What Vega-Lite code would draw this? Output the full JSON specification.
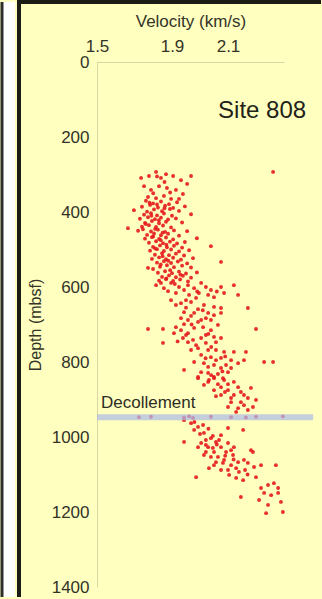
{
  "$schema": "https://vega.github.io/schema/vega-lite/v6.json",
  "background": "#ffffc0",
  "padding": 0,
  "spacing": 0,
  "config": {
    "view": {"stroke": null},
    "font": "Liberation Sans",
    "axis": {"labelFont": "Liberation Sans", "titleFont": "Liberation Sans"}
  },
  "datasets": {
    "measurements": [
      {"velocity":1.777,"depth":304},{"velocity":1.815,"depth":293},{"velocity":1.841,"depth":309},{"velocity":1.868,"depth":299},{"velocity":1.904,"depth":304},{"velocity":1.932,"depth":315},{"velocity":1.954,"depth":325},{"velocity":1.751,"depth":331},{"velocity":1.788,"depth":341},{"velocity":1.831,"depth":331},{"velocity":1.873,"depth":336},{"velocity":1.914,"depth":341},{"velocity":1.939,"depth":352},{"velocity":1.735,"depth":309},{"velocity":1.772,"depth":360},{"velocity":1.815,"depth":363},{"velocity":1.857,"depth":357},{"velocity":1.895,"depth":365},{"velocity":1.925,"depth":365},{"velocity":2.261,"depth":293},{"velocity":1.968,"depth":304},
      {"velocity":1.761,"depth":370},{"velocity":1.799,"depth":377},{"velocity":1.841,"depth":372},{"velocity":1.884,"depth":379},{"velocity":1.918,"depth":374},
      {"velocity":1.74,"depth":386},{"velocity":1.783,"depth":381},{"velocity":1.825,"depth":388},{"velocity":1.863,"depth":383},{"velocity":1.904,"depth":389},{"velocity":1.946,"depth":385},
      {"velocity":1.697,"depth":395},{"velocity":1.767,"depth":399},{"velocity":1.804,"depth":393},{"velocity":1.847,"depth":398},{"velocity":1.889,"depth":392},{"velocity":1.925,"depth":397},
      {"velocity":1.751,"depth":407},{"velocity":1.788,"depth":403},{"velocity":1.82,"depth":409},{"velocity":1.857,"depth":404},{"velocity":1.9,"depth":410},{"velocity":1.968,"depth":406},
      {"velocity":1.729,"depth":418},{"velocity":1.772,"depth":414},{"velocity":1.809,"depth":419},{"velocity":1.841,"depth":415},{"velocity":1.879,"depth":420},{"velocity":1.914,"depth":417},
      {"velocity":1.756,"depth":429},{"velocity":1.793,"depth":424},{"velocity":1.831,"depth":430},{"velocity":1.868,"depth":426},{"velocity":1.936,"depth":428},
      {"velocity":1.74,"depth":439},{"velocity":1.777,"depth":435},{"velocity":1.815,"depth":440},{"velocity":1.852,"depth":436},{"velocity":1.895,"depth":441},
      {"velocity":1.665,"depth":443},
      {"velocity":1.719,"depth":450},{"velocity":1.745,"depth":446},{"velocity":1.788,"depth":452},{"velocity":1.825,"depth":447},{"velocity":1.863,"depth":453},{"velocity":1.907,"depth":449},{"velocity":1.954,"depth":451},
      {"velocity":1.767,"depth":461},{"velocity":1.804,"depth":457},{"velocity":1.841,"depth":462},{"velocity":1.879,"depth":458},{"velocity":1.925,"depth":463},
      {"velocity":1.756,"depth":471},{"velocity":1.793,"depth":467},{"velocity":1.831,"depth":472},{"velocity":1.868,"depth":468},{"velocity":1.904,"depth":473},{"velocity":1.989,"depth":470},
      {"velocity":1.777,"depth":482},{"velocity":1.815,"depth":478},{"velocity":1.852,"depth":483},{"velocity":1.889,"depth":479},{"velocity":1.918,"depth":484},{"velocity":1.946,"depth":480},
      {"velocity":1.799,"depth":493},{"velocity":1.836,"depth":489},{"velocity":1.873,"depth":494},{"velocity":1.907,"depth":490},{"velocity":1.936,"depth":495},{"velocity":2.039,"depth":491},
      {"velocity":1.783,"depth":503},{"velocity":1.82,"depth":499},{"velocity":1.857,"depth":504},{"velocity":1.895,"depth":500},{"velocity":1.925,"depth":505},{"velocity":1.961,"depth":502},
      {"velocity":1.809,"depth":514},{"velocity":1.847,"depth":510},{"velocity":1.884,"depth":515},{"velocity":1.914,"depth":511},{"velocity":1.943,"depth":516},
      {"velocity":1.793,"depth":525},{"velocity":1.831,"depth":521},{"velocity":1.868,"depth":526},{"velocity":1.904,"depth":522},{"velocity":1.932,"depth":527},{"velocity":1.975,"depth":523},
      {"velocity":1.82,"depth":535},{"velocity":1.857,"depth":531},{"velocity":1.895,"depth":536},{"velocity":1.921,"depth":532},{"velocity":1.954,"depth":537},{"velocity":2.075,"depth":533},
      {"velocity":1.836,"depth":546},{"velocity":1.873,"depth":542},{"velocity":1.907,"depth":547},{"velocity":1.936,"depth":543},{"velocity":1.968,"depth":548},
      {"velocity":1.772,"depth":549},{"velocity":1.799,"depth":552},
      {"velocity":1.825,"depth":562},{"velocity":1.863,"depth":558},{"velocity":1.9,"depth":563},{"velocity":1.925,"depth":559},{"velocity":1.95,"depth":564},{"velocity":1.989,"depth":561},
      {"velocity":1.847,"depth":573},{"velocity":1.884,"depth":569},{"velocity":1.914,"depth":574},{"velocity":1.939,"depth":570},{"velocity":1.968,"depth":575},
      {"velocity":1.831,"depth":583},{"velocity":1.868,"depth":579},{"velocity":1.904,"depth":584},{"velocity":1.929,"depth":580},{"velocity":1.957,"depth":585},
      {"velocity":1.78,"depth":375},{"velocity":1.82,"depth":380},{"velocity":1.86,"depth":390},{"velocity":1.79,"depth":410},{"velocity":1.83,"depth":422},{"velocity":1.76,"depth":432},{"velocity":1.81,"depth":445},{"velocity":1.85,"depth":455},{"velocity":1.8,"depth":465},{"velocity":1.84,"depth":475},{"velocity":1.87,"depth":487},{"velocity":1.81,"depth":497},{"velocity":1.85,"depth":518},{"velocity":1.88,"depth":530},{"velocity":1.84,"depth":540},{"velocity":1.89,"depth":555},{"velocity":1.93,"depth":567},{"velocity":1.87,"depth":577},{"velocity":1.91,"depth":592},{"velocity":1.82,"depth":305},{"velocity":1.86,"depth":320},{"velocity":1.8,"depth":350},{"velocity":1.89,"depth":348},
      {"velocity":1.815,"depth":595},{"velocity":1.857,"depth":603},{"velocity":1.895,"depth":589},{"velocity":1.925,"depth":600},{"velocity":1.957,"depth":595},{"velocity":1.996,"depth":616},{"velocity":2.004,"depth":589},{"velocity":2.039,"depth":608},{"velocity":2.075,"depth":600},{"velocity":2.121,"depth":595},{"velocity":2.086,"depth":616},{"velocity":2.136,"depth":621},{"velocity":1.914,"depth":616},{"velocity":1.961,"depth":621},{"velocity":2.029,"depth":621},{"velocity":2.05,"depth":627},
      {"velocity":1.895,"depth":635},{"velocity":1.932,"depth":643},{"velocity":1.968,"depth":640},{"velocity":2.014,"depth":648},{"velocity":2.05,"depth":653},{"velocity":2.075,"depth":656},{"velocity":1.943,"depth":667},{"velocity":1.979,"depth":669},{"velocity":2.029,"depth":669},{"velocity":2.004,"depth":688},{"velocity":2.075,"depth":669},{"velocity":2.039,"depth":688},{"velocity":2.171,"depth":656},{"velocity":1.957,"depth":688},
      {"velocity":1.914,"depth":707},{"velocity":1.932,"depth":715},{"velocity":1.957,"depth":723},{"velocity":1.979,"depth":709},{"velocity":2.011,"depth":707},{"velocity":2.039,"depth":715},{"velocity":2.064,"depth":701},{"velocity":1.939,"depth":736},{"velocity":1.957,"depth":747},{"velocity":1.975,"depth":741},{"velocity":2.004,"depth":736},{"velocity":2.021,"depth":728},{"velocity":2.05,"depth":733},{"velocity":2.075,"depth":736},{"velocity":1.852,"depth":749},{"velocity":1.772,"depth":712},{"velocity":1.852,"depth":712},{"velocity":2.2,"depth":712},{"velocity":1.907,"depth":723},
      {"velocity":1.993,"depth":763},{"velocity":2.029,"depth":768},{"velocity":2.057,"depth":768},{"velocity":2.086,"depth":773},{"velocity":2.121,"depth":773},{"velocity":2.039,"depth":787},{"velocity":2.075,"depth":789},{"velocity":2.111,"depth":795},{"velocity":2.136,"depth":803},{"velocity":2.157,"depth":795},{"velocity":2.014,"depth":803},{"velocity":2.05,"depth":808},{"velocity":2.075,"depth":816},{"velocity":2.004,"depth":827},{"velocity":2.029,"depth":829},{"velocity":2.05,"depth":840},{"velocity":2.1,"depth":827},{"velocity":1.943,"depth":821},{"velocity":2.229,"depth":800},{"velocity":2.261,"depth":800},{"velocity":2.164,"depth":773},
      {"velocity":1.841,"depth":589},{"velocity":1.879,"depth":611},{"velocity":1.943,"depth":608},{"velocity":1.979,"depth":603},{"velocity":2.021,"depth":600},{"velocity":1.986,"depth":629},{"velocity":1.95,"depth":635},{"velocity":1.914,"depth":648},{"velocity":1.993,"depth":659},{"velocity":2.021,"depth":683},{"velocity":1.968,"depth":677},{"velocity":1.943,"depth":699},{"velocity":1.993,"depth":693},{"velocity":1.932,"depth":683},{"velocity":2.05,"depth":675},{"velocity":1.95,"depth":728},{"velocity":1.986,"depth":755},{"velocity":2.021,"depth":749},{"velocity":2.057,"depth":747},{"velocity":1.968,"depth":768},{"velocity":2.004,"depth":781},{"velocity":2.057,"depth":795},{"velocity":2.093,"depth":808},{"velocity":2.029,"depth":813},{"velocity":1.979,"depth":800},{"velocity":2.111,"depth":816},{"velocity":2.064,"depth":832},{"velocity":2.082,"depth":843},{"velocity":2.032,"depth":848},{"velocity":1.993,"depth":843},
      {"velocity":1.99,"depth":612},{"velocity":2.06,"depth":612},{"velocity":1.95,"depth":655},{"velocity":2.01,"depth":662},{"velocity":1.97,"depth":700},{"velocity":2.03,"depth":725},{"velocity":1.92,"depth":745},{"velocity":2.04,"depth":760},{"velocity":2.09,"depth":785},{"velocity":2.02,"depth":790},{"velocity":2.08,"depth":825},{"velocity":2.04,"depth":835},
      {"velocity":1.993,"depth":840},{"velocity":2.029,"depth":853},{"velocity":2.05,"depth":843},{"velocity":2.075,"depth":867},{"velocity":2.1,"depth":875},{"velocity":2.121,"depth":888},{"velocity":2.146,"depth":880},{"velocity":2.171,"depth":896},{"velocity":2.075,"depth":888},{"velocity":2.111,"depth":907},{"velocity":2.157,"depth":915},{"velocity":2.189,"depth":920},{"velocity":2.136,"depth":923},{"velocity":2.05,"depth":875},{"velocity":2.014,"depth":861},{"velocity":2.086,"depth":848},{"velocity":2.121,"depth":853},{"velocity":2.182,"depth":869},
      {"velocity":2.064,"depth":859},{"velocity":2.1,"depth":859},{"velocity":2.136,"depth":867},{"velocity":2.089,"depth":880},{"velocity":2.157,"depth":888},{"velocity":2.057,"depth":891},{"velocity":2.111,"depth":896},{"velocity":2.146,"depth":907},{"velocity":2.1,"depth":920},{"velocity":2.171,"depth":928},{"velocity":2.2,"depth":901},{"velocity":2.129,"depth":933},
      {"velocity":1.724,"depth":947},{"velocity":1.788,"depth":946},{"velocity":1.943,"depth":948},{"velocity":1.961,"depth":945},{"velocity":1.975,"depth":949},{"velocity":2.039,"depth":946},{"velocity":2.111,"depth":947},{"velocity":2.164,"depth":948},{"velocity":2.2,"depth":946},{"velocity":2.296,"depth":945},
      {"velocity":1.943,"depth":955},{"velocity":1.968,"depth":963},{"velocity":1.993,"depth":973},{"velocity":2.014,"depth":989},{"velocity":2.039,"depth":1003},{"velocity":2.004,"depth":1016},{"velocity":2.029,"depth":1027},{"velocity":2.05,"depth":1040},{"velocity":2.075,"depth":1027},{"velocity":2.1,"depth":1016},{"velocity":2.121,"depth":1027},{"velocity":2.064,"depth":1053},{"velocity":2.039,"depth":1053},{"velocity":2.086,"depth":1061},{"velocity":2.111,"depth":1075},{"velocity":2.129,"depth":1083},{"velocity":2.1,"depth":1088},{"velocity":2.075,"depth":1088},{"velocity":2.032,"depth":1083},{"velocity":1.943,"depth":1013},{"velocity":1.986,"depth":1107},{"velocity":2.154,"depth":981},{"velocity":2.189,"depth":1040},{"velocity":2.171,"depth":1069},{"velocity":2.193,"depth":1080},{"velocity":2.218,"depth":1075},{"velocity":2.271,"depth":1075},{"velocity":2.2,"depth":1107},{"velocity":2.129,"depth":1109},{"velocity":2.154,"depth":1115},
      {"velocity":2.218,"depth":1136},{"velocity":2.243,"depth":1128},{"velocity":2.264,"depth":1123},{"velocity":2.279,"depth":1136},{"velocity":2.229,"depth":1149},{"velocity":2.254,"depth":1155},{"velocity":2.279,"depth":1149},{"velocity":2.211,"depth":1168},{"velocity":2.243,"depth":1181},{"velocity":2.289,"depth":1173},{"velocity":2.236,"depth":1203},{"velocity":2.296,"depth":1200},{"velocity":2.146,"depth":1160},
      {"velocity":2.011,"depth":968},{"velocity":2.075,"depth":995},{"velocity":2.021,"depth":1021},{"velocity":2.046,"depth":1029},{"velocity":2.111,"depth":1035},{"velocity":2.014,"depth":1048},{"velocity":2.1,"depth":976},{"velocity":2.182,"depth":1035},{"velocity":2.136,"depth":1067},{"velocity":2.157,"depth":1061},{"velocity":2.057,"depth":1013},
      {"velocity":1.979,"depth":981},{"velocity":2.0,"depth":992},{"velocity":2.021,"depth":1008},{"velocity":2.046,"depth":997},{"velocity":2.068,"depth":1008},{"velocity":2.093,"depth":1040},{"velocity":2.057,"depth":1067},{"velocity":2.021,"depth":1040},{"velocity":1.993,"depth":1027},{"velocity":2.082,"depth":1069},{"velocity":2.118,"depth":1048},{"velocity":2.139,"depth":1093},{"velocity":2.104,"depth":1101},{"velocity":2.161,"depth":1088},
      {"velocity":1.98,"depth":960},{"velocity":2.03,"depth":978},{"velocity":2.06,"depth":1020},{"velocity":2.09,"depth":1050},{"velocity":2.05,"depth":1075},{"velocity":2.12,"depth":1060},{"velocity":2.17,"depth":1100}
    ],
    "features": [
      {"feature": "Decollement", "depth": 947, "vStart": 1.5, "vEnd": 2.404}
    ],
    "sites": [
      {"site": "Site 808", "velocity": 2.379, "depth": 149}
    ]
  },
  "hconcat": [
    {
      "width": 13,
      "height": 595,
      "data": {"values": []},
      "mark": "point",
      "encoding": {},
      "view": {"fill": "#ffffff", "stroke": "#2e2e2a", "strokeWidth": 3, "strokeDash": [0, 621, 595]}
    },
    {
      "width": 302,
      "height": 595,
      "view": {"fill": "#ffffc0", "stroke": "#1c1b14", "strokeWidth": 4, "strokeDash": [302, 897, 595]},
      "layer": [
        {
          "data": {"name": "measurements"},
          "mark": {"type": "circle", "size": 15, "color": "#e41a1c", "opacity": 0.9},
          "encoding": {
            "x": {
              "field": "velocity", "type": "quantitative", "title": "Velocity (km/s)",
              "scale": {"domain": [1.5, 1.9, 2.3], "range": [78, 153, 265], "nice": false, "zero": false},
              "axis": {
                "orient": "top", "offset": -60, "values": [1.5, 1.9, 2.1], "format": ".1f",
                "grid": false, "ticks": false, "labelFlush": false, "labelOverlap": false,
                "labelPadding": 7, "titlePadding": 7,
                "domainColor": "#d9d5a6", "domainWidth": 1,
                "labelFontSize": 17, "titleFontSize": 17, "titleFontWeight": "normal",
                "labelColor": "#333328", "titleColor": "#333328"
              }
            },
            "y": {
              "field": "depth", "type": "quantitative", "title": "Depth (mbsf)",
              "scale": {"domain": [0, 1400], "range": [60, 585], "nice": false, "zero": false},
              "axis": {
                "orient": "left", "offset": -78, "values": [0, 200, 400, 600, 800, 1000, 1200, 1400], "format": "d",
                "grid": false, "ticks": false, "labelFlush": false, "labelOverlap": false,
                "labelPadding": 8, "titlePadding": 8,
                "domainColor": "#d9d5a6", "domainWidth": 1,
                "labelFontSize": 17, "titleFontSize": 16, "titleFontWeight": "normal",
                "labelColor": "#333328", "titleColor": "#333328"
              }
            }
          }
        },
        {
          "data": {"name": "features"},
          "mark": {"type": "rule", "strokeWidth": 6, "color": "#aebde6", "opacity": 0.72},
          "encoding": {
            "x": {"field": "vStart", "type": "quantitative", "title": "Velocity (km/s)"},
            "x2": {"field": "vEnd"},
            "y": {"field": "depth", "type": "quantitative", "title": "Depth (mbsf)"}
          }
        },
        {
          "data": {"name": "features"},
          "mark": {"type": "text", "align": "left", "baseline": "alphabetic", "dx": 4, "dy": -9, "fontSize": 17, "color": "#2d2d24"},
          "encoding": {
            "x": {"field": "vStart", "type": "quantitative", "title": "Velocity (km/s)"},
            "y": {"field": "depth", "type": "quantitative", "title": "Depth (mbsf)"},
            "text": {"field": "feature"}
          }
        },
        {
          "data": {"name": "sites"},
          "mark": {"type": "text", "align": "right", "baseline": "alphabetic", "fontSize": 24, "color": "#222218"},
          "encoding": {
            "x": {"field": "velocity", "type": "quantitative", "title": "Velocity (km/s)"},
            "y": {"field": "depth", "type": "quantitative", "title": "Depth (mbsf)"},
            "text": {"field": "site"}
          }
        }
      ]
    }
  ]
}
